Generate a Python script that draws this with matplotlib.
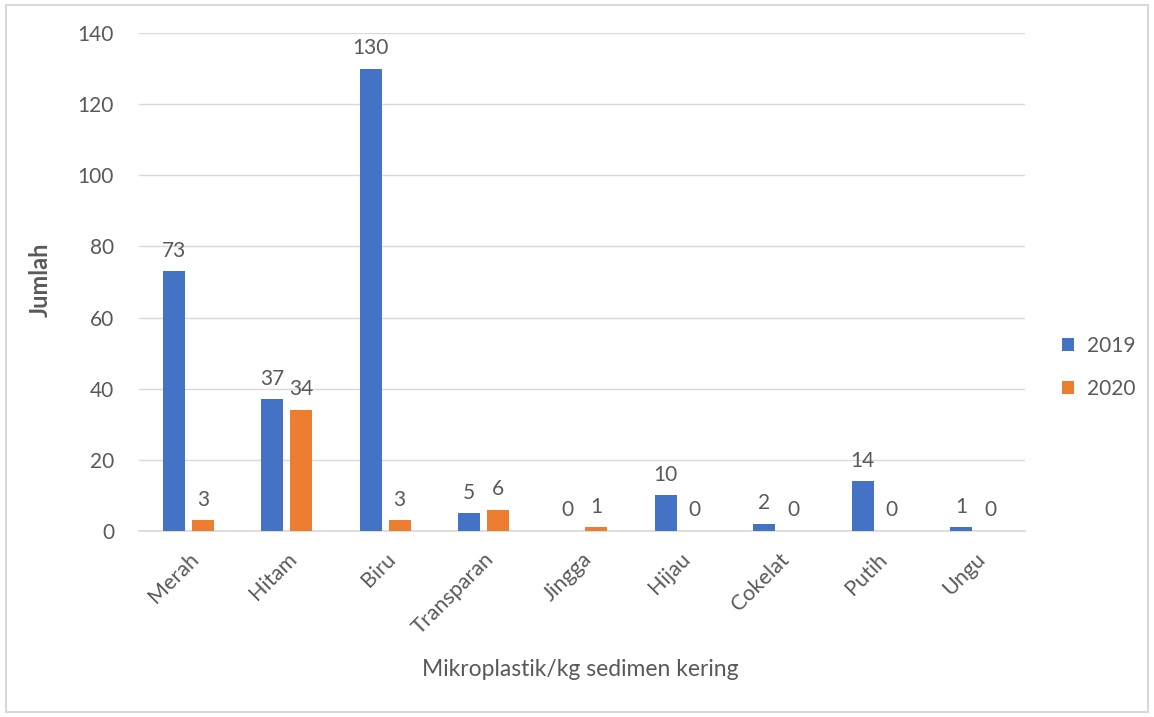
import matplotlib
matplotlib.use("Agg")
import matplotlib.pyplot as plt
import numpy as np
from matplotlib.patches import Rectangle

categories = ["Merah", "Hitam", "Biru", "Transparan", "Jingga", "Hijau", "Cokelat", "Putih", "Ungu"]
years = ["2019", "2020"]
values_2019 = [73, 37, 130, 5, 0, 10, 2, 14, 1]
values_2020 = [3, 34, 3, 6, 1, 0, 0, 0, 0]
colors = ["#4472C4", "#ED7D31"]
text_color = "#595959"

plt.rcParams["font.family"] = ["Lato", "DejaVu Sans"]

fig = plt.figure(figsize=(11.54, 7.17), dpi=100)
ax = fig.add_axes([0.1205, 0.2594, 0.7675, 0.6946])

x = np.arange(len(categories))
width = 0.224
offset = 0.147
for i, (vals, label) in enumerate(zip([values_2019, values_2020], years)):
    pos = x + (offset if i else -offset)
    ax.bar(pos, vals, width=width, color=colors[i], label=label, zorder=3)
    for px, v in zip(pos, vals):
        ax.text(px, v + 3.0, str(v), ha="center", va="bottom",
                fontsize=15, color=text_color)

ax.set_xlim(-0.5, len(categories) - 0.5)
ax.set_ylim(0, 140)
ax.set_yticks(range(0, 141, 20))
ax.yaxis.grid(True, color="#d9d9d9", linewidth=1, zorder=0)
for s in ["top", "right", "left"]:
    ax.spines[s].set_visible(False)
ax.spines["bottom"].set_color("#d9d9d9")
ax.spines["bottom"].set_linewidth(1.2)
ax.tick_params(axis="y", length=0, labelsize=15, labelcolor=text_color, pad=18)
ax.set_xticks(x)
ax.set_xticklabels(categories, rotation=45, ha="right", rotation_mode="anchor")
ax.tick_params(axis="x", length=0, labelsize=15.5, labelcolor=text_color, pad=13)

# axis titles placed in figure coordinates
fig.text(40 / 1154, 1 - 280 / 717, "Jumlah", rotation=90, ha="center", va="center",
         fontsize=17, fontweight="bold", color=text_color)
fig.text(580 / 1154, 1 - 670 / 717, "Mikroplastik/kg sedimen kering", ha="center",
         va="center", fontsize=16.5, color=text_color)

leg = fig.legend(loc="upper left", bbox_to_anchor=(0.904, 0.558), frameon=False,
                 fontsize=15, handlelength=0.6, handleheight=0.6, labelspacing=1.1,
                 handletextpad=0.6)
for t in leg.get_texts():
    t.set_color(text_color)

fig.patches.append(Rectangle((0.005, 0.007), 0.99, 0.986, transform=fig.transFigure,
                             fill=False, edgecolor="#d9d9d9", linewidth=1.5))

fig.savefig("out.png", dpi=100)
